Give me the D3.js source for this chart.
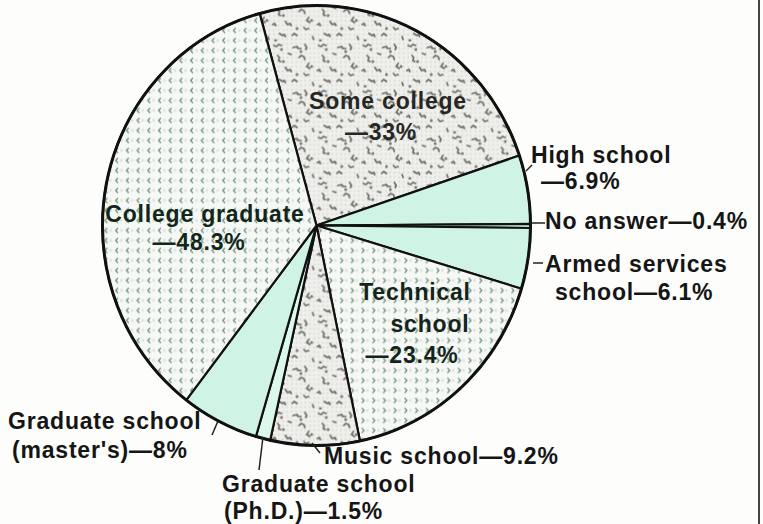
<!DOCTYPE html>
<html><head><meta charset="utf-8">
<script src="https://cdn.jsdelivr.net/npm/d3@7"></script>
<style>
html,body{margin:0;padding:0;background:#fdfdfc;}
svg{display:block;}
text{font-family:"Liberation Sans",Arial,Helvetica,sans-serif;font-weight:bold;}
</style></head><body>
<svg id="chart" width="763" height="524"></svg>
<script>
// ---- data ----
const categories = ["Some college","High school","No answer","Armed services school","Technical school","Music school","Graduate school (Ph.D.)","Graduate school (master's)","College graduate"];
const values = [33, 6.9, 0.4, 6.1, 23.4, 9.2, 1.5, 8, 48.3];
const labelLines = [
  ["Some college","—33%"],
  ["High school","—6.9%"],
  ["No answer—0.4%"],
  ["Armed services","school—6.1%"],
  ["Technical","school","—23.4%"],
  ["Music school—9.2%"],
  ["Graduate school","(Ph.D.)—1.5%"],
  ["Graduate school","(master's)—8%"],
  ["College graduate","—48.3%"]
];

// ---- styles & layout ----
const fillFor = {
  "Some college":"url(#speckle)", "High school":"#cff4e5", "No answer":"#cff4e5",
  "Armed services school":"#cff4e5", "Technical school":"url(#chevR)", "Music school":"url(#speckle)",
  "Graduate school (Ph.D.)":"#dcf7ec", "Graduate school (master's)":"#cff4e5", "College graduate":"url(#chevL)"
};
const labelLayout = {
  "Some college":[{x:388,y:109,a:"middle",c:"#262624"},{x:381,y:140,a:"middle",c:"#262624"}],
  "High school":[{x:531,y:163,a:"start"},{x:541,y:189,a:"start"}],
  "No answer":[{x:545,y:229,a:"start"}],
  "Armed services":[],
  "Armed services school":[{x:545,y:272,a:"start"},{x:555,y:300,a:"start"}],
  "Technical school":[{x:415,y:300,a:"middle",c:"#14241a"},{x:430,y:332,a:"middle",c:"#14241a"},{x:412,y:363,a:"middle",c:"#14241a"}],
  "Music school":[{x:324,y:464,a:"start"}],
  "Graduate school (Ph.D.)":[{x:222,y:492,a:"start"},{x:224,y:519,a:"start"}],
  "Graduate school (master's)":[{x:8,y:429,a:"start"},{x:12,y:458,a:"start"}],
  "College graduate":[{x:205,y:222,a:"middle",c:"#12261a"},{x:199,y:250,a:"middle",c:"#12261a"}]
};
const leaders = [
  [[526,171],[532,165]],
  [[531,223],[545,223]],
  [[533,263],[543,263]],
  [[212,435],[218,421]],
  [[263,437],[259,470]],
  [[312,443],[320,453]]
];
const cx = 316.5, cy = 225.5, rx = 214, ry = 220;
const startDeg = -15.4;

const svg = d3.select("#chart");
const defs = svg.append("defs");

// speckle pattern
const sp = defs.append("pattern").attr("id","speckle").attr("patternUnits","userSpaceOnUse")
  .attr("width",46).attr("height",46);
sp.append("rect").attr("width",46).attr("height",46).attr("fill","#efefec");
for (let i=0;i<46;i+=4.6) for (let j=0;j<46;j+=4.6)
  sp.append("circle").attr("cx",i+2.3).attr("cy",j+2.3).attr("r",1.1).attr("fill","#dcdcd8");
const squig = ["M2,4 l3,1 l2,-2 l3,1","M22,6 l4,-1 l1,2 l3,0","M34,3 l2,3 l-1,2",
  "M6,14 l2,2 l-1,3 l2,1","M28,16 l2,-2 l3,1 l1,3",
  "M38,22 l-2,3 l3,2","M14,26 l2,3 l3,-1 l1,2",
  "M33,32 l2,2 l3,-1","M8,38 l3,2 l2,-1 l1,2","M21,40 l2,-2 l3,2","M42,41 l1,3",
  "M17,12 l3,1","M1,29 l2,-1 l1,2"];
squig.forEach(d=>sp.append("path").attr("d",d).attr("fill","none").attr("stroke","#6a6a60")
  .attr("stroke-width",1.7).attr("stroke-linecap","round").attr("stroke-linejoin","round"));
[[10,8],[30,10],[26,33],[41,25],[4,45],[12,20]].forEach(p=>sp.append("circle")
  .attr("cx",p[0]).attr("cy",p[1]).attr("r",1.5).attr("fill","#77776c"));

// chevron patterns
function chev(id, d){
  const p = defs.append("pattern").attr("id",id).attr("patternUnits","userSpaceOnUse")
    .attr("width",11).attr("height",10);
  p.append("rect").attr("width",11).attr("height",10).attr("fill","#f6f8f6");
  p.append("circle").attr("cx",8.5).attr("cy",5).attr("r",1.4).attr("fill","#dfe1df");
  p.append("path").attr("d",d).attr("fill","none").attr("stroke","#5f8a6a").attr("stroke-width",1.1);
}
chev("chevL","M5,2.5 L2.5,5 L5,7.5");
chev("chevR","M2.5,2.5 L5,5 L2.5,7.5");

// pie
const a0 = startDeg*Math.PI/180;
const pie = d3.pie().sort(null).startAngle(a0).endAngle(a0+2*Math.PI).value(d=>d.v);
const data = categories.map((c,i)=>({c, v:values[i]}));
const arcs = pie(data);
const arc = d3.arc().innerRadius(0).outerRadius(ry);

const g = svg.append("g").attr("transform",`translate(${cx},${cy}) scale(${rx/ry},1)`);
g.selectAll("path.slice").data(arcs).join("path").attr("class","slice")
  .attr("d",arc).attr("fill",d=>fillFor[d.data.c])
  .attr("stroke","#111").attr("stroke-width",2.2).attr("stroke-linejoin","round")
  .attr("vector-effect","non-scaling-stroke");
g.append("circle").attr("r",ry).attr("fill","none").attr("stroke","#111").attr("stroke-width",3)
  .attr("vector-effect","non-scaling-stroke");

// leaders
svg.selectAll("line.lead").data(leaders).join("line").attr("class","lead")
  .attr("x1",d=>d[0][0]).attr("y1",d=>d[0][1]).attr("x2",d=>d[1][0]).attr("y2",d=>d[1][1])
  .attr("stroke","#222").attr("stroke-width",1.5);

// labels
categories.forEach((c,i)=>{
  labelLines[i].forEach((t,k)=>{
    const L = labelLayout[c][k];
    svg.append("text").attr("x",L.x).attr("y",L.y).attr("text-anchor",L.a)
      .attr("fill",L.c||"#151515").attr("font-size",23).attr("letter-spacing",0.8).text(t);
  });
});

// right frame line
svg.append("line").attr("x1",759).attr("x2",759).attr("y1",0).attr("y2",524)
  .attr("stroke","#444").attr("stroke-width",2);
</script>
</body></html>
